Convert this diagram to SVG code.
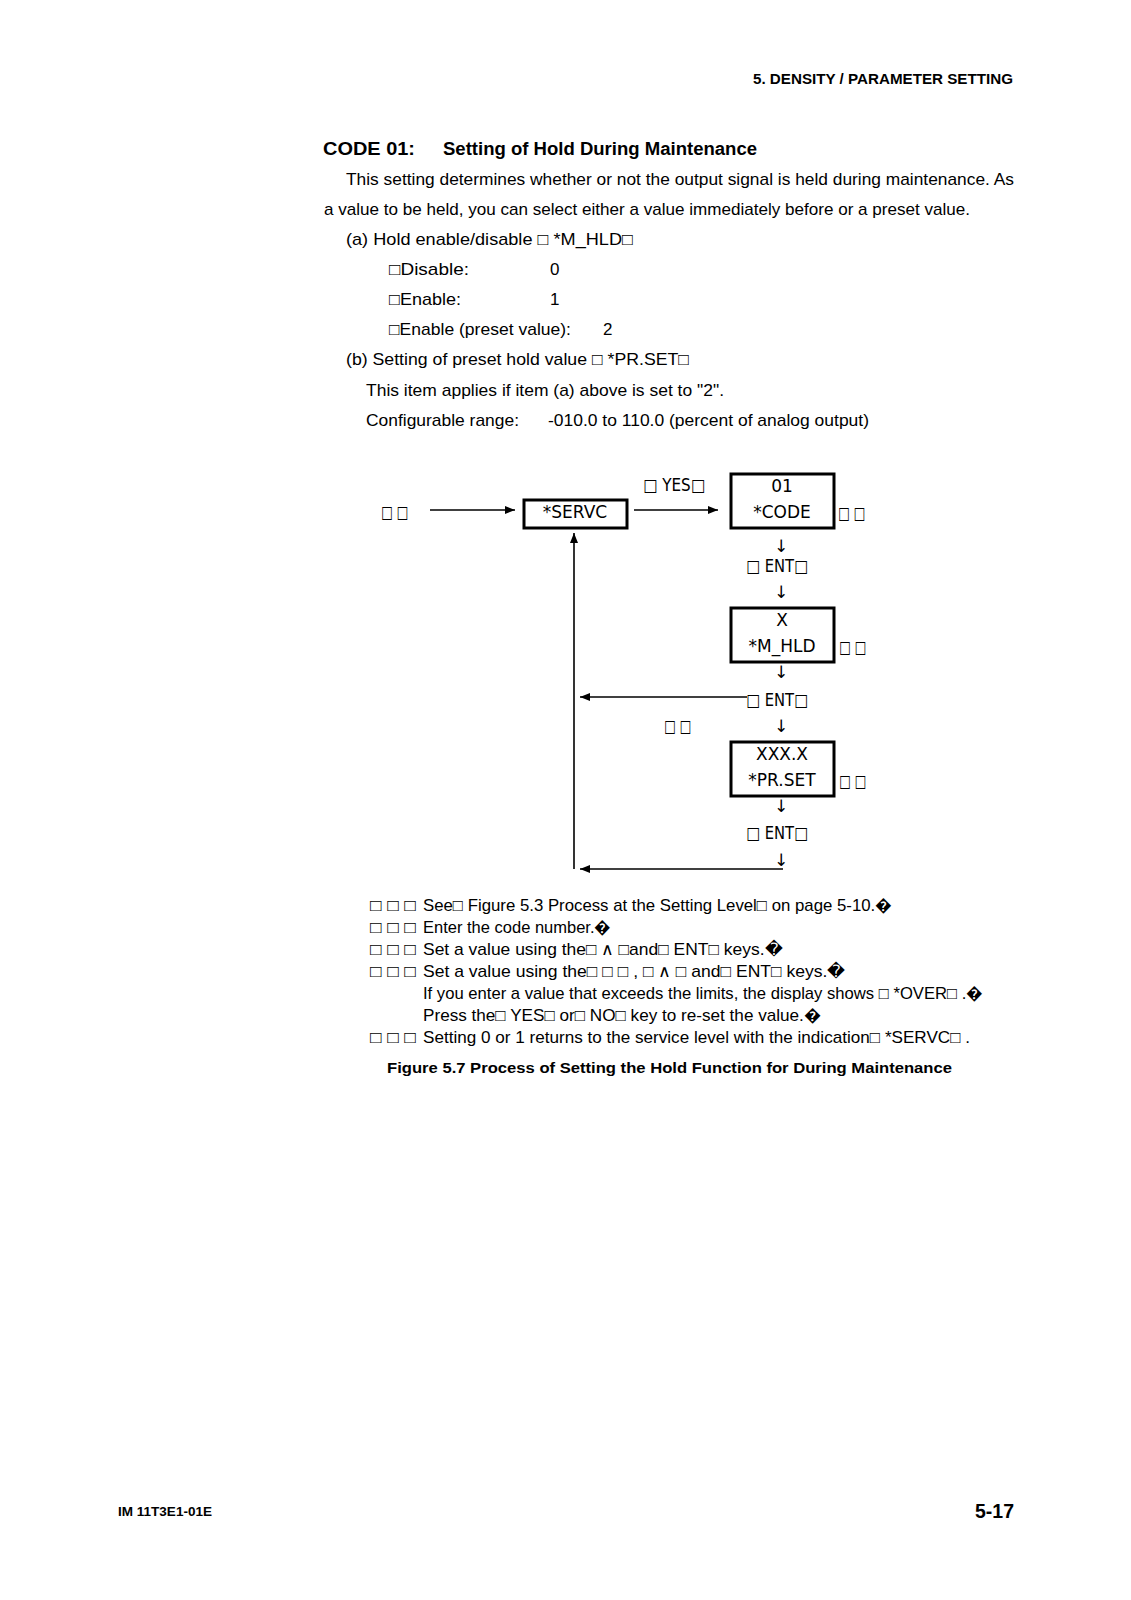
<svg xmlns="http://www.w3.org/2000/svg" width="1131" height="1600" viewBox="0 0 1131 1600">
<style>
.t{font-family:"Liberation Sans",Arial,sans-serif;font-size:17px;fill:#000}
.b{font-family:"Liberation Sans",Arial,sans-serif;font-weight:bold;fill:#000}
.d{font-family:"DejaVu Sans",sans-serif;font-size:17px;fill:#000}
.dc{font-family:"DejaVu Sans",sans-serif;font-size:17px;fill:#000;text-anchor:middle}
.box{fill:#fff;stroke:#000;stroke-width:3}
.ln{stroke:#000;stroke-width:1.6;fill:none}
</style>
<defs>
<marker id="ah" viewBox="0 0 10 8" refX="10" refY="4" markerWidth="10" markerHeight="8" markerUnits="userSpaceOnUse" orient="auto">
<path d="M0,0 L10,4 L0,8 z" fill="#000"/>
</marker>
</defs>
<rect width="1131" height="1600" fill="#fff"/>

<g id="header">
<text class="b" x="753" y="84" font-size="14" textLength="260" lengthAdjust="spacingAndGlyphs">5. DENSITY / PARAMETER SETTING</text>
</g>

<g id="body-text">
<text class="b" x="323" y="155" font-size="18" textLength="92" lengthAdjust="spacingAndGlyphs">CODE  01:</text>
<text class="b" x="443" y="155" font-size="18" textLength="314" lengthAdjust="spacingAndGlyphs">Setting of Hold During Maintenance</text>
<text class="t" x="346" y="185" textLength="668" lengthAdjust="spacingAndGlyphs">This setting determines whether or not the output signal is held during maintenance.  As</text>
<text class="t" x="324" y="215" textLength="646" lengthAdjust="spacingAndGlyphs">a value to be held, you can select either a value immediately before or a preset value.</text>
<text class="t" x="346" y="245" textLength="287" lengthAdjust="spacingAndGlyphs">(a) Hold enable/disable □ *M_HLD□</text>
<text class="t" x="389" y="275" textLength="80" lengthAdjust="spacingAndGlyphs">□Disable:</text>
<text class="t" x="550" y="275">0</text>
<text class="t" x="389" y="305" textLength="72" lengthAdjust="spacingAndGlyphs">□Enable:</text>
<text class="t" x="550" y="305">1</text>
<text class="t" x="389" y="335" textLength="182" lengthAdjust="spacingAndGlyphs">□Enable (preset value):</text>
<text class="t" x="603" y="335">2</text>
<text class="t" x="346" y="365" textLength="343" lengthAdjust="spacingAndGlyphs">(b) Setting of preset hold value □ *PR.SET□</text>
<text class="t" x="366" y="396" textLength="358" lengthAdjust="spacingAndGlyphs">This item applies if item (a) above is set to "2".</text>
<text class="t" x="366" y="426" textLength="153" lengthAdjust="spacingAndGlyphs">Configurable range:</text>
<text class="t" x="548" y="426" textLength="321" lengthAdjust="spacingAndGlyphs">-010.0 to 110.0 (percent of analog output)</text>
</g>

<g id="connectors">
<line class="ln" x1="430" y1="510" x2="515" y2="510" marker-end="url(#ah)"/>
<line class="ln" x1="634" y1="510" x2="718" y2="510" marker-end="url(#ah)"/>
<line class="ln" x1="747" y1="697" x2="580" y2="697" marker-end="url(#ah)"/>
<line class="ln" x1="574" y1="869" x2="574" y2="533" marker-end="url(#ah)"/>
<line class="ln" x1="783" y1="869" x2="580" y2="869" marker-end="url(#ah)"/>
<text class="dc" x="781" y="552">↓</text>
<text class="dc" x="781" y="598">↓</text>
<text class="dc" x="781" y="678">↓</text>
<text class="dc" x="781" y="732">↓</text>
<text class="dc" x="781" y="812">↓</text>
<text class="dc" x="781" y="866">↓</text>
<text class="d" x="643" y="491" textLength="62" lengthAdjust="spacingAndGlyphs">□ YES□</text>
<text class="d" x="381" y="518" textLength="27" lengthAdjust="spacingAndGlyphs">□ □</text>
<text class="d" x="664" y="732" textLength="27" lengthAdjust="spacingAndGlyphs">□ □</text>
</g>

<g id="node-servc">
<rect class="box" x="524" y="500" width="103" height="28"/>
<text class="dc" x="575" y="518">*SERVC</text>
</g>

<g id="node-code">
<rect class="box" x="731" y="474" width="103" height="54"/>
<text class="dc" x="782" y="492">01</text>
<text class="dc" x="782" y="518">*CODE</text>
<text class="d" x="838" y="519" textLength="27" lengthAdjust="spacingAndGlyphs">□ □</text>
</g>

<g id="node-ent1">
<text class="dc" x="777" y="572" textLength="62" lengthAdjust="spacingAndGlyphs">□ ENT□</text>
</g>

<g id="node-mhld">
<rect class="box" x="731" y="608" width="103" height="54"/>
<text class="dc" x="782" y="626">X</text>
<text class="dc" x="782" y="652">*M_HLD</text>
<text class="d" x="839" y="653" textLength="27" lengthAdjust="spacingAndGlyphs">□ □</text>
</g>

<g id="node-ent2">
<text class="dc" x="777" y="706" textLength="62" lengthAdjust="spacingAndGlyphs">□ ENT□</text>
</g>

<g id="node-prset">
<rect class="box" x="731" y="742" width="103" height="54"/>
<text class="dc" x="782" y="760">XXX.X</text>
<text class="dc" x="782" y="786">*PR.SET</text>
<text class="d" x="839" y="787" textLength="27" lengthAdjust="spacingAndGlyphs">□ □</text>
</g>

<g id="node-ent3">
<text class="dc" x="777" y="839" textLength="62" lengthAdjust="spacingAndGlyphs">□ ENT□</text>
</g>

<g id="notes">
<text class="t" x="370" y="911" textLength="46" lengthAdjust="spacingAndGlyphs">□ □ □</text>
<text class="t" x="423" y="911" textLength="469" lengthAdjust="spacingAndGlyphs">See□ Figure 5.3  Process at the Setting Level□ on page 5-10.�</text>
<text class="t" x="370" y="933" textLength="46" lengthAdjust="spacingAndGlyphs">□ □ □</text>
<text class="t" x="423" y="933" textLength="188" lengthAdjust="spacingAndGlyphs">Enter the code number.�</text>
<text class="t" x="370" y="955" textLength="46" lengthAdjust="spacingAndGlyphs">□ □ □</text>
<text class="t" x="423" y="955" textLength="359" lengthAdjust="spacingAndGlyphs">Set a value using the□ ∧ □and□ ENT□ keys.�</text>
<text class="t" x="370" y="977" textLength="46" lengthAdjust="spacingAndGlyphs">□ □ □</text>
<text class="t" x="423" y="977" textLength="422" lengthAdjust="spacingAndGlyphs">Set a value using the□ □ □ , □ ∧ □ and□ ENT□ keys.�</text>
<text class="t" x="423" y="999" textLength="560" lengthAdjust="spacingAndGlyphs">If you enter a value that exceeds the limits, the display shows □ *OVER□ .�</text>
<text class="t" x="423" y="1021" textLength="398" lengthAdjust="spacingAndGlyphs">Press the□ YES□ or□ NO□ key to re-set the value.�</text>
<text class="t" x="370" y="1043" textLength="46" lengthAdjust="spacingAndGlyphs">□ □ □</text>
<text class="t" x="423" y="1043" textLength="547" lengthAdjust="spacingAndGlyphs">Setting 0 or 1 returns to the service level with the indication□ *SERVC□ .</text>
<text class="b" x="387" y="1073" font-size="15" textLength="565" lengthAdjust="spacingAndGlyphs">Figure 5.7 Process of Setting the Hold Function for During Maintenance</text>
</g>

<g id="footer">
<text class="b" x="118" y="1516" font-size="12" textLength="94" lengthAdjust="spacingAndGlyphs">IM 11T3E1-01E</text>
<text class="b" x="975" y="1518" font-size="20" textLength="39" lengthAdjust="spacingAndGlyphs">5-17</text>
</g>
</svg>
